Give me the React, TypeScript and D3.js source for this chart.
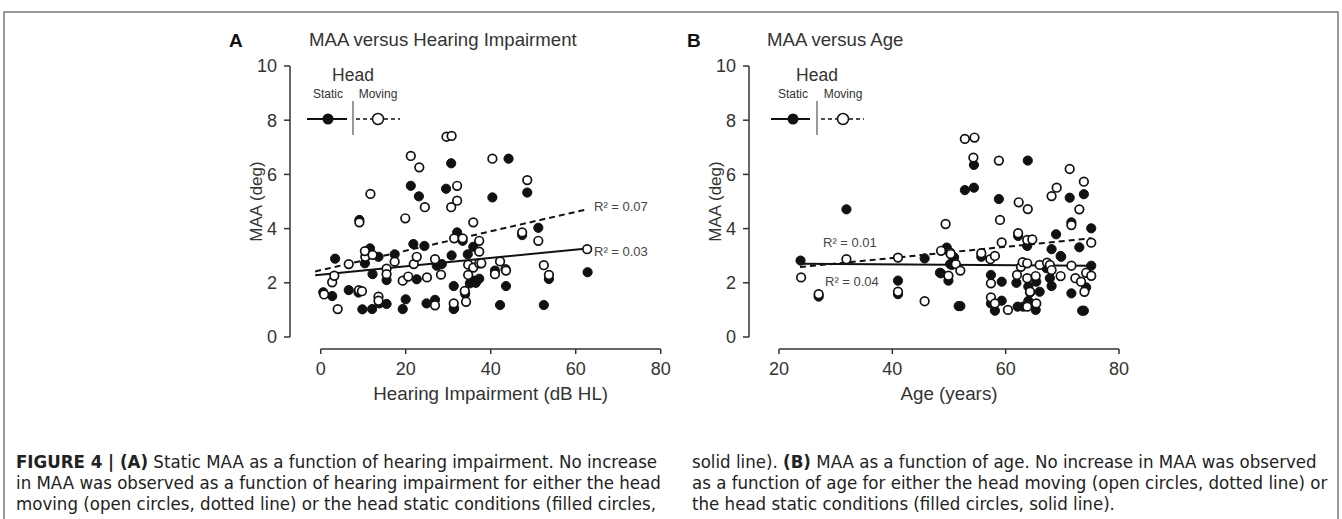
import React from 'react';
import * as d3 from 'd3';

// Panel A: hearing impairment (dB HL) vs MAA (deg)
const hlStatic: [number, number][] = [
  [0.6, 1.65], [2.7, 1.51], [3.4, 2.89], [6.6, 1.73], [8.9, 1.64], [9.1, 4.32], [9.8, 1.02],
  [10.4, 2.72], [11.6, 3.27], [12.1, 1.03], [12.2, 2.32], [13.6, 2.96], [13.8, 1.24], [15.5, 2.1],
  [15.5, 1.22], [17.4, 3.05], [19.3, 1.03], [20.0, 1.39], [21.2, 5.58], [21.8, 3.43], [22.6, 2.13],
  [23.1, 5.19], [24.4, 3.36], [24.9, 1.24], [26.9, 1.37], [27.3, 2.63], [28.5, 2.69], [29.5, 5.47],
  [30.7, 6.41], [30.8, 3.01], [31.3, 1.03], [31.3, 1.88], [31.4, 1.06], [32.1, 3.86], [33.4, 3.55],
  [34.0, 1.59], [34.6, 3.05], [35.1, 1.98], [35.9, 3.33], [35.9, 2.08], [36.5, 2.0], [37.3, 2.15],
  [40.4, 5.15], [41.0, 2.45], [42.2, 1.18], [43.6, 1.88], [44.2, 6.58], [47.4, 3.76], [48.6, 5.33],
  [51.2, 4.03], [52.5, 1.18], [53.7, 2.14], [62.8, 2.39],
];
const hlMoving: [number, number][] = [
  [0.8, 1.57], [2.7, 2.02], [3.2, 2.26], [4.0, 1.03], [6.6, 2.69], [9.0, 1.73], [9.1, 4.23],
  [9.7, 1.69], [10.5, 2.96], [10.4, 3.17], [11.7, 5.28], [12.2, 3.03], [13.6, 1.49], [13.6, 1.34],
  [15.5, 2.52], [15.5, 2.32], [17.4, 2.78], [19.3, 2.08], [19.9, 4.38], [20.6, 2.23], [21.2, 6.68],
  [21.9, 2.69], [22.6, 2.96], [23.2, 6.26], [24.5, 4.79], [25.0, 2.2], [26.9, 2.87], [26.9, 1.17],
  [28.3, 2.3], [29.6, 7.39], [30.7, 4.79], [30.8, 7.42], [31.3, 1.24], [31.4, 3.64], [32.1, 5.58],
  [32.1, 5.03], [33.4, 3.64], [33.9, 1.7], [34.2, 1.3], [34.7, 2.67], [34.7, 2.29], [35.9, 2.56],
  [35.9, 4.23], [37.3, 3.55], [37.3, 3.15], [37.3, 2.72], [37.8, 2.72], [40.4, 6.58], [41.0, 2.32],
  [42.2, 2.79], [43.5, 2.5], [43.6, 2.45], [47.4, 3.86], [48.6, 5.79], [51.2, 3.55], [52.5, 2.65],
  [53.7, 2.29], [62.7, 3.24],
];

// Panel B: age (years) vs MAA (deg)
const ageStatic: [number, number][] = [
  [23.8, 2.82], [27.0, 1.49], [31.9, 4.71], [41.0, 2.08], [41.0, 1.58], [45.7, 2.9], [48.4, 2.37],
  [48.6, 2.35], [49.6, 3.3], [49.9, 2.08], [50.2, 2.69], [50.5, 2.66], [50.9, 2.94], [51.7, 1.14],
  [52.0, 1.14], [52.8, 5.42], [54.4, 6.35], [54.4, 5.51], [55.7, 2.96], [57.4, 2.29], [57.4, 1.24],
  [58.1, 0.97], [58.8, 5.09], [59.3, 2.04], [59.3, 1.34], [61.9, 2.0], [62.1, 1.12], [62.2, 3.73],
  [63.1, 1.12], [63.8, 3.36], [63.9, 6.51], [64.0, 1.86], [64.0, 1.33], [64.3, 1.64], [65.3, 1.0],
  [65.4, 2.04], [66.0, 1.67], [67.2, 2.54], [67.8, 2.17], [68.1, 1.88], [68.1, 3.24], [68.9, 3.79],
  [69.7, 2.99], [69.8, 2.96], [71.3, 5.14], [71.6, 4.23], [71.6, 1.61], [73.0, 3.31], [73.5, 0.97],
  [73.8, 0.97], [73.8, 5.27], [74.2, 1.83], [75.1, 4.01], [75.1, 2.63],
];
const ageMoving: [number, number][] = [
  [23.9, 2.2], [27.0, 1.58], [31.9, 2.87], [41.0, 2.93], [41.0, 1.67], [45.7, 1.32], [48.6, 3.18],
  [49.4, 4.17], [49.9, 2.26], [50.2, 3.11], [50.3, 3.06], [51.2, 2.69], [52.0, 2.45], [52.8, 7.31],
  [54.3, 6.62], [54.5, 7.36], [55.7, 3.09], [57.3, 2.87], [57.4, 1.98], [57.4, 1.46], [58.1, 2.99],
  [58.1, 1.24], [58.8, 6.51], [59.0, 4.32], [59.3, 3.49], [60.4, 1.0], [62.0, 2.29], [62.2, 3.83],
  [62.3, 4.97], [62.7, 2.59], [63.0, 2.76], [63.8, 3.58], [63.8, 2.72], [63.8, 2.17], [63.8, 1.12],
  [63.9, 4.72], [64.3, 1.67], [64.7, 3.6], [65.3, 2.25], [65.4, 1.24], [66.0, 2.66], [67.3, 2.74],
  [67.8, 2.66], [68.1, 5.2], [68.1, 2.47], [69.0, 5.51], [69.7, 2.25], [71.3, 6.2], [71.6, 4.13],
  [71.6, 2.63], [72.3, 2.17], [73.0, 4.71], [73.3, 2.04], [73.8, 5.73], [73.9, 1.67], [74.2, 2.37],
  [75.1, 3.48], [75.1, 2.26],
];

// regression lines, end points
const hlFitStatic: [number, number][] = [[-1.3, 2.28], [62.7, 3.27]];
const hlFitMoving: [number, number][] = [[-1.3, 2.42], [62.6, 4.71]];
const ageFitStatic: [number, number][] = [[23.8, 2.7], [75.1, 2.63]];
const ageFitMoving: [number, number][] = [[23.7, 2.58], [75.1, 3.64]];

const yTicks = [0, 2, 4, 6, 8, 10];
const hlTicks = [0, 20, 40, 60, 80];
const ageTicks = [20, 40, 60, 80];

const captionLeft = [
  'in MAA was observed as a function of hearing impairment for either the head',
  'moving (open circles, dotted line) or the head static conditions (filled circles,',
];
const captionRight = [
  'as a function of age for either the head moving (open circles, dotted line) or',
  'the head static conditions (filled circles, solid line).',
];

const FONT = 'Liberation Sans, Arial, sans-serif';
const CAP = 'DejaVu Sans Condensed, sans-serif';
const INK = '#333';

const y = d3.scaleLinear().domain([0, 10]).range([337, 66]);

function Panel({ x, axisX, letter, letterX, title, titleX, xTitle, statics, moving, fitS, fitM, ticks, r2, legend }) {
  const line = d3.line<[number, number]>().x((d) => x(d[0])).y((d) => y(d[1]));
  const [x0, x1] = x.range();
  const ly = 119;
  return (
    <g fontFamily={FONT} fill={INK}>
      <text x={letterX} y={47} fontSize={19} fontWeight="bold" fill="#111">{letter}</text>
      <text x={titleX} y={46} fontSize={18.6}>{title}</text>
      {/* y axis */}
      <line x1={axisX} x2={axisX} y1={y(10)} y2={y(0)} stroke={INK} strokeWidth={1.5} />
      {yTicks.map((t) => (
        <g key={t} transform={`translate(${axisX},${y(t)})`}>
          <line x1={-6} x2={0} stroke={INK} strokeWidth={1.5} />
          <text x={-13} dy="0.35em" textAnchor="end" fontSize={18}>{t}</text>
        </g>
      ))}
      <text transform={`translate(${axisX - 28},${y(5)}) rotate(-90)`} textAnchor="middle" fontSize={17}>MAA (deg)</text>
      {/* x axis */}
      <line x1={x0} x2={x1} y1={349} y2={349} stroke={INK} strokeWidth={1.5} />
      {ticks.map((t) => (
        <g key={t} transform={`translate(${x(t)},349)`}>
          <line y1={0} y2={5} stroke={INK} strokeWidth={1.5} />
          <text y={26} textAnchor="middle" fontSize={18}>{t}</text>
        </g>
      ))}
      <text x={(x0 + x1) / 2} y={400} textAnchor="middle" fontSize={18.8}>{xTitle}</text>
      {/* fits */}
      <path d={line(fitS)} fill="none" stroke="#111" strokeWidth={2} />
      <path d={line(fitM)} fill="none" stroke="#111" strokeWidth={2} strokeDasharray="6 4" />
      {/* points */}
      {statics.map((d, i) => (
        <circle key={'s' + i} cx={x(d[0])} cy={y(d[1])} r={4.6} fill="#111" stroke="#111" strokeWidth={1} />
      ))}
      {moving.map((d, i) => (
        <circle key={'m' + i} cx={x(d[0])} cy={y(d[1])} r={4.3} fill="#fff" stroke="#111" strokeWidth={1.7} />
      ))}
      {r2.map((r, i) => (
        <text key={i} x={r.x} y={r.y} fontSize={13} fill="#444">{r.t}</text>
      ))}
      {/* legend */}
      <text x={legend.sep} y={81} textAnchor="middle" fontSize={17.5}>Head</text>
      <text x={legend.fc} y={98} textAnchor="middle" fontSize={12}>Static</text>
      <text x={legend.oc} y={98} textAnchor="middle" fontSize={12}>Moving</text>
      <line x1={legend.s0} x2={legend.s1} y1={ly} y2={ly} stroke="#111" strokeWidth={2} />
      <circle cx={legend.fc} cy={ly} r={5.5} fill="#111" />
      <line x1={legend.sep} x2={legend.sep} y1={101} y2={135} stroke="#777" strokeWidth={1.5} />
      <line x1={legend.d0} x2={legend.d1} y1={ly} y2={ly} stroke="#111" strokeWidth={1.5} strokeDasharray="4 3" />
      <circle cx={legend.oc} cy={ly} r={5.5} fill="#fff" stroke="#111" strokeWidth={1.5} />
    </g>
  );
}

export default function App() {
  const xA = d3.scaleLinear().domain([0, 80]).range([320.7, 660.7]);
  const xB = d3.scaleLinear().domain([20, 80]).range([779, 1119]);
  return (
    <svg width={1342} height={519} style={{ position: 'absolute', left: 0, top: 0, background: '#fff' }}>
      <rect x={4} y={12} width={1334} height={520} fill="none" stroke="#777" strokeWidth={1.5} />
      <Panel
        x={xA} axisX={290} letter="A" letterX={229} title="MAA versus Hearing Impairment" titleX={309}
        xTitle="Hearing Impairment (dB HL)" statics={hlStatic} moving={hlMoving}
        fitS={hlFitStatic} fitM={hlFitMoving} ticks={hlTicks}
        r2={[{ x: 594, y: 211, t: 'R² = 0.07' }, { x: 594, y: 256, t: 'R² = 0.03' }]}
        legend={{ s0: 307, s1: 347, fc: 328, sep: 353, d0: 356, d1: 400, oc: 378 }}
      />
      <Panel
        x={xB} axisX={749} letter="B" letterX={687} title="MAA versus Age" titleX={767}
        xTitle="Age (years)" statics={ageStatic} moving={ageMoving}
        fitS={ageFitStatic} fitM={ageFitMoving} ticks={ageTicks}
        r2={[{ x: 823, y: 247, t: 'R² = 0.01' }, { x: 825, y: 286, t: 'R² = 0.04' }]}
        legend={{ s0: 771, s1: 810, fc: 793, sep: 817, d0: 821, d1: 864, oc: 843 }}
      />
      <g fontFamily={CAP} fontSize={18.5} fill="#222">
        <text x={16} y={468}>
          <tspan fontWeight="bold">FIGURE 4 | (A)</tspan> Static MAA as a function of hearing impairment. No increase
        </text>
        {captionLeft.map((t, i) => (
          <text key={t} x={16} y={489 + i * 21}>{t}</text>
        ))}
        <text x={692} y={468}>
          solid line). <tspan fontWeight="bold">(B)</tspan> MAA as a function of age. No increase in MAA was observed
        </text>
        {captionRight.map((t, i) => (
          <text key={t} x={692} y={489 + i * 21}>{t}</text>
        ))}
      </g>
    </svg>
  );
}
